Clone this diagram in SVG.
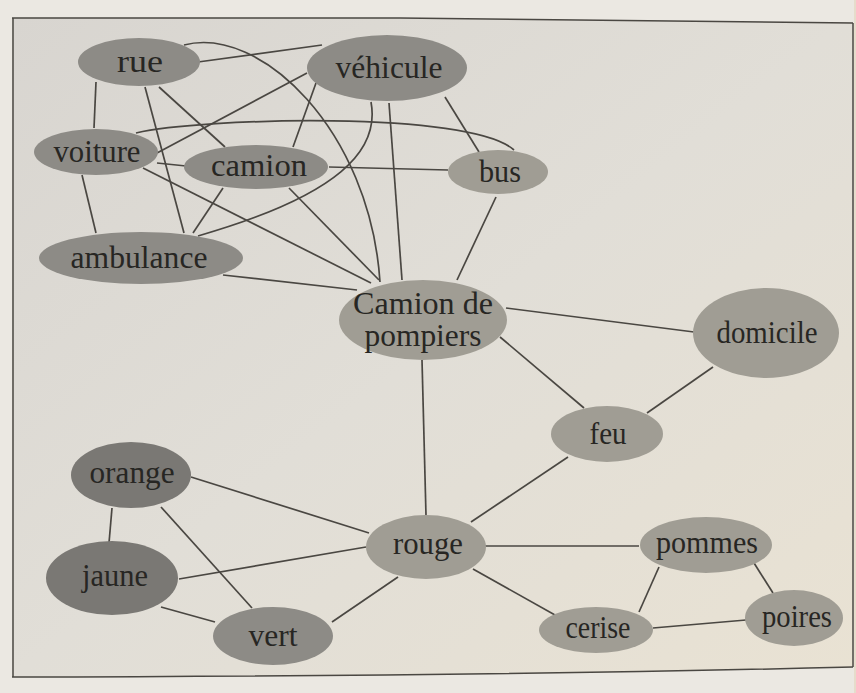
<svg xmlns="http://www.w3.org/2000/svg" width="856" height="693" viewBox="0 0 856 693">
<defs>
<linearGradient id="paper" x1="0" y1="0" x2="1" y2="1">
<stop offset="0" stop-color="#d8d5d0"/>
<stop offset="0.5" stop-color="#e1ded7"/>
<stop offset="1" stop-color="#e9e2d3"/>
</linearGradient>
<style>
.n ellipse{stroke:none}
.t{font-family:"Liberation Serif","DejaVu Serif",serif;font-size:31px;fill:#272623;text-anchor:middle}
.e line,.e path{stroke:#4a4742;stroke-width:1.7;fill:none}
.g1{fill:#8d8b86}
.g2{fill:#7a7874}
.g3{fill:#a09d94}
.frame{stroke:#4a4742;stroke-width:1.5;fill:none}
</style>
</defs>
<rect width="856" height="693" fill="#ebe8e2"/>
<path d="M12,18 L400,18 L853,23 L853,667 Q500,676 12,677 Z" fill="url(#paper)"/>
<rect x="854" y="0" width="2" height="693" fill="#e6dccb"/>
<path class="frame" d="M12,18 L400,18 L853,23"/>
<line class="frame" x1="13" y1="18" x2="13" y2="677"/>
<line class="frame" x1="853" y1="23" x2="853" y2="667"/>
<path class="frame" d="M12,677 Q500,676 853,667"/>
<g id="connectors" class="e">
<line x1="198" y1="62" x2="322" y2="45"/>
<line x1="96" y1="82" x2="94" y2="128"/>
<line x1="145" y1="87" x2="184" y2="233"/>
<line x1="159" y1="87" x2="225" y2="147"/>
<path d="M184,45 C260,25 370,130 380,282"/>
<line x1="307" y1="73" x2="157" y2="153"/>
<line x1="316" y1="83" x2="293" y2="147"/>
<path d="M371,102 C380,150 340,195 198,236"/>
<line x1="389" y1="103" x2="402" y2="280"/>
<line x1="445" y1="97" x2="479" y2="152"/>
<path d="M136,133 C200,118 470,110 514,150"/>
<line x1="157" y1="163" x2="186" y2="166"/>
<line x1="82" y1="175" x2="96" y2="233"/>
<line x1="143" y1="168" x2="371" y2="283"/>
<line x1="329" y1="167" x2="448" y2="170"/>
<line x1="223" y1="188" x2="193" y2="233"/>
<line x1="289" y1="188" x2="379" y2="280"/>
<line x1="496" y1="197" x2="457" y2="280"/>
<line x1="223" y1="275" x2="357" y2="290"/>
<line x1="506" y1="308" x2="694" y2="332"/>
<line x1="500" y1="337" x2="584" y2="408"/>
<line x1="422" y1="360" x2="426" y2="515"/>
<line x1="713" y1="367" x2="647" y2="413"/>
<line x1="568" y1="457" x2="471" y2="522"/>
<line x1="191" y1="477" x2="369" y2="533"/>
<line x1="112" y1="508" x2="109" y2="543"/>
<line x1="161" y1="507" x2="252" y2="608"/>
<line x1="179" y1="579" x2="366" y2="547"/>
<line x1="161" y1="607" x2="215" y2="622"/>
<line x1="332" y1="622" x2="398" y2="577"/>
<line x1="485" y1="546" x2="639" y2="546"/>
<line x1="473" y1="569" x2="555" y2="615"/>
<line x1="659" y1="567" x2="639" y2="612"/>
<line x1="754" y1="563" x2="773" y2="593"/>
<line x1="653" y1="628" x2="746" y2="620"/>
</g>
<g id="rue" class="n"><ellipse class="g1" cx="139" cy="62" rx="61" ry="24"/><text class="t" x="140" y="72" textLength="46" lengthAdjust="spacingAndGlyphs">rue</text></g>
<g id="vehicule" class="n"><ellipse class="g1" cx="387" cy="68" rx="80" ry="33"/><text class="t" x="389" y="78" textLength="107" lengthAdjust="spacingAndGlyphs">véhicule</text></g>
<g id="voiture" class="n"><ellipse class="g1" cx="96" cy="152" rx="62" ry="23"/><text class="t" x="97" y="162" textLength="87" lengthAdjust="spacingAndGlyphs">voiture</text></g>
<g id="camion" class="n"><ellipse class="g1" cx="256" cy="167" rx="72" ry="22"/><text class="t" x="259" y="176" textLength="96" lengthAdjust="spacingAndGlyphs">camion</text></g>
<g id="bus" class="n"><ellipse class="g3" cx="498" cy="172" rx="50" ry="22"/><text class="t" x="500" y="182" textLength="42" lengthAdjust="spacingAndGlyphs">bus</text></g>
<g id="ambulance" class="n"><ellipse class="g1" cx="141" cy="258" rx="102" ry="26"/><text class="t" x="139" y="268" textLength="137" lengthAdjust="spacingAndGlyphs">ambulance</text></g>
<g id="camion-de-pompiers" class="n"><ellipse class="g3" cx="423" cy="320" rx="84" ry="40"/><text class="t" x="423" y="314" textLength="140" lengthAdjust="spacingAndGlyphs">Camion de</text><text class="t" x="423" y="346" textLength="117" lengthAdjust="spacingAndGlyphs">pompiers</text></g>
<g id="domicile" class="n"><ellipse class="g3" cx="766" cy="333" rx="73" ry="45"/><text class="t" x="767" y="343" textLength="101" lengthAdjust="spacingAndGlyphs">domicile</text></g>
<g id="feu" class="n"><ellipse class="g3" cx="607" cy="434" rx="56" ry="28"/><text class="t" x="608" y="444" textLength="37" lengthAdjust="spacingAndGlyphs">feu</text></g>
<g id="orange" class="n"><ellipse class="g2" cx="131" cy="475" rx="60" ry="33"/><text class="t" x="132" y="483" textLength="85" lengthAdjust="spacingAndGlyphs">orange</text></g>
<g id="jaune" class="n"><ellipse class="g2" cx="112" cy="578" rx="66" ry="37"/><text class="t" x="115" y="586" textLength="66" lengthAdjust="spacingAndGlyphs">jaune</text></g>
<g id="vert" class="n"><ellipse class="g1" cx="273" cy="636" rx="60" ry="29"/><text class="t" x="273" y="646" textLength="49" lengthAdjust="spacingAndGlyphs">vert</text></g>
<g id="rouge" class="n"><ellipse class="g3" cx="426" cy="547" rx="60" ry="32"/><text class="t" x="428" y="554" textLength="70" lengthAdjust="spacingAndGlyphs">rouge</text></g>
<g id="pommes" class="n"><ellipse class="g3" cx="706" cy="545" rx="66" ry="28"/><text class="t" x="707" y="553" textLength="102" lengthAdjust="spacingAndGlyphs">pommes</text></g>
<g id="cerise" class="n"><ellipse class="g3" cx="596" cy="630" rx="57" ry="23"/><text class="t" x="598" y="638" textLength="65" lengthAdjust="spacingAndGlyphs">cerise</text></g>
<g id="poires" class="n"><ellipse class="g3" cx="794" cy="618" rx="49" ry="28"/><text class="t" x="797" y="627" textLength="70" lengthAdjust="spacingAndGlyphs">poires</text></g>
</svg>
